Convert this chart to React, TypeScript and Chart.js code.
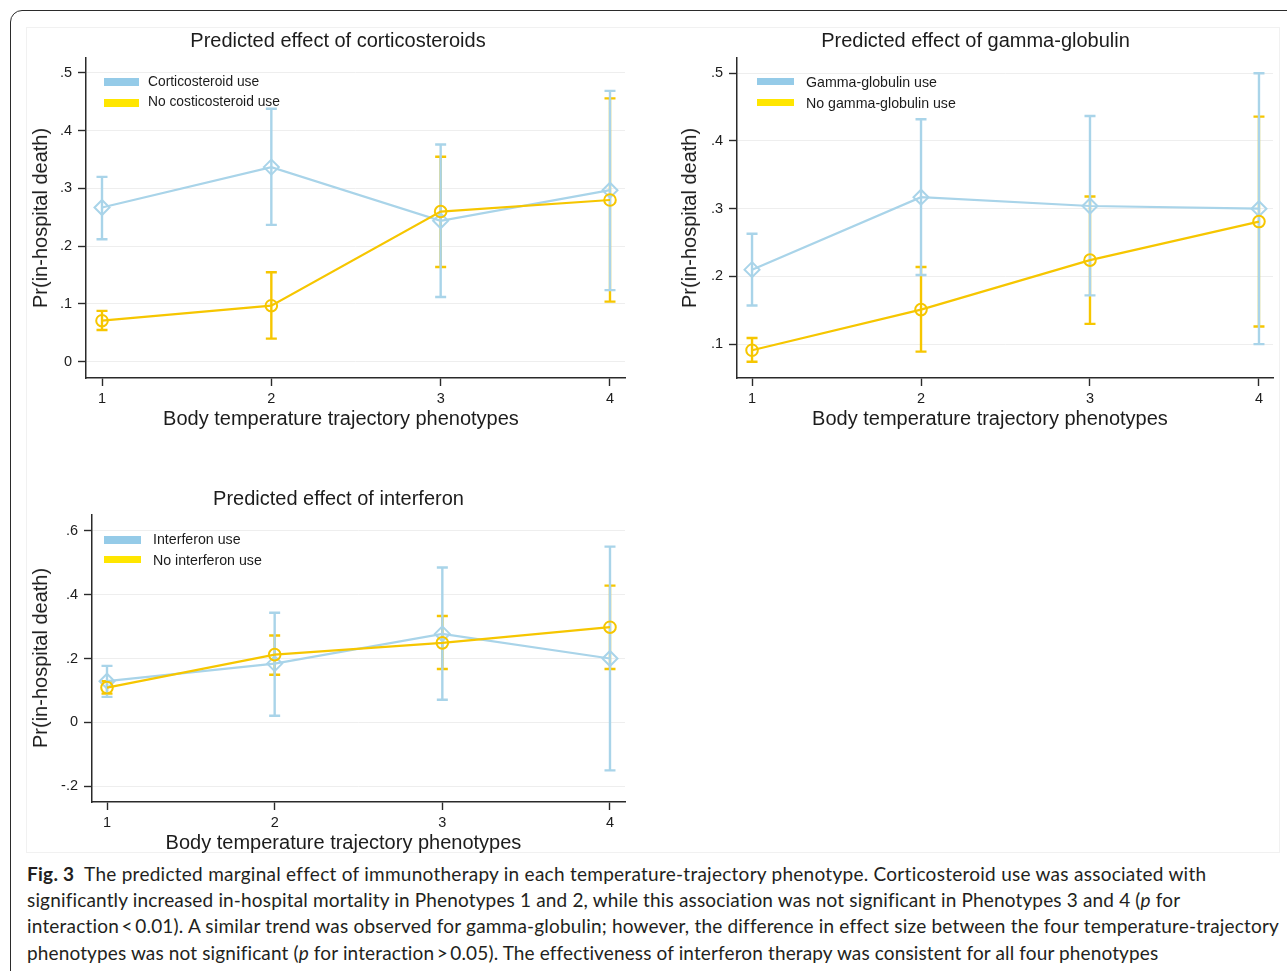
import React, { useEffect, useLayoutEffect, useRef } from "react";
import { Chart, registerables } from "chart.js";

Chart.register(...registerables);

// ---------------- data ----------------
const phenotypes = [1, 2, 3, 4];
const xTickLabels = ["1", "2", "3", "4"];

// Panel A: corticosteroids
const corticoUse = [0.267, 0.337, 0.244, 0.297];
const corticoUseLo = [0.212, 0.237, 0.112, 0.124];
const corticoUseHi = [0.32, 0.438, 0.376, 0.469];
const noCortico = [0.071, 0.097, 0.26, 0.28];
const noCorticoLo = [0.055, 0.04, 0.164, 0.104];
const noCorticoHi = [0.088, 0.155, 0.355, 0.456];
const yTicksA = [0, 0.1, 0.2, 0.3, 0.4, 0.5];
const yTickLabelsA = ["0", ".1", ".2", ".3", ".4", ".5"];

// Panel B: gamma-globulin
const gammaUse = [0.21, 0.317, 0.304, 0.3];
const gammaUseLo = [0.157, 0.202, 0.172, 0.1];
const gammaUseHi = [0.263, 0.432, 0.437, 0.5];
const noGamma = [0.091, 0.151, 0.224, 0.281];
const noGammaLo = [0.074, 0.089, 0.13, 0.126];
const noGammaHi = [0.109, 0.214, 0.318, 0.436];
const yTicksB = [0.1, 0.2, 0.3, 0.4, 0.5];
const yTickLabelsB = [".1", ".2", ".3", ".4", ".5"];

// Panel C: interferon
const interferonUse = [0.129, 0.184, 0.277, 0.2];
const interferonUseLo = [0.08, 0.021, 0.071, -0.15];
const interferonUseHi = [0.177, 0.343, 0.485, 0.55];
const noInterferon = [0.109, 0.212, 0.249, 0.298];
const noInterferonLo = [0.09, 0.149, 0.167, 0.167];
const noInterferonHi = [0.129, 0.272, 0.333, 0.428];
const yTicksC = [-0.2, 0, 0.2, 0.4, 0.6];
const yTickLabelsC = ["-.2", "0", ".2", ".4", ".6"];

// ---------------- style ----------------
const FONT = "'Liberation Sans', Arial, Helvetica, sans-serif";
const CAPTION_FONT = "Lato, 'Open Sans', sans-serif";
const INK = "#1c1c1c";
const AXIS = "#2a2a2a";
const BLUE = "#a9d4e9";
const YELLOW = "#f6c600";
const BLUE_KEY = "#95cbe8";
const YELLOW_KEY = "#ffe600";
const GRID = "#eeeeee";

const Y_AXIS_W = 66;
const X_AXIS_H = 28;
const PAD_T = 10;
const TOP_EXTRA = 4;
const PAD_R = 15;
const PAD_B = 4;

type Spec = {
  title: string;
  useLabel: string;
  noLabel: string;
  use: number[];
  useLo: number[];
  useHi: number[];
  no: number[];
  noLo: number[];
  noHi: number[];
  yTicks: number[];
  yTickLabels: string[];
  xMin: number;
  xMax: number;
  yMin: number;
  yMax: number;
  L: number;
  R: number;
  T: number;
  B: number;
  titleAt: [number, number];
  xTitleAt: [number, number];
  yTitleAt: [number, number];
  keyLeft: number;
  keyW: number;
  keyTops: [number, number];
  textLeft: number;
  textCenters: [number, number];
  keyFont: number;
};

const specs: Spec[] = [
  {
    title: "Predicted effect of corticosteroids",
    useLabel: "Corticosteroid use",
    noLabel: "No costicosteroid use",
    use: corticoUse, useLo: corticoUseLo, useHi: corticoUseHi,
    no: noCortico, noLo: noCorticoLo, noHi: noCorticoHi,
    yTicks: yTicksA, yTickLabels: yTickLabelsA,
    xMin: 0.9055, xMax: 4.0886, yMin: -0.0282, yMax: 0.5264,
    L: 86, R: 625, T: 57, B: 378,
    titleAt: [338, 40], xTitleAt: [341, 418], yTitleAt: [40, 217.5],
    keyLeft: 104, keyW: 35, keyTops: [78, 99], textLeft: 148, textCenters: [81.5, 101.5], keyFont: 13.8,
  },
  {
    title: "Predicted effect of gamma-globulin",
    useLabel: "Gamma-globulin use",
    noLabel: "No gamma-globulin use",
    use: gammaUse, useLo: gammaUseLo, useHi: gammaUseHi,
    no: noGamma, noLo: noGammaLo, noHi: noGammaHi,
    yTicks: yTicksB, yTickLabels: yTickLabelsB,
    xMin: 0.911, xMax: 4.083, yMin: 0.05, yMax: 0.523,
    L: 737, R: 1273, T: 57, B: 378,
    titleAt: [975.5, 40], xTitleAt: [990, 418], yTitleAt: [689, 217.5],
    keyLeft: 757, keyW: 37, keyTops: [77.5, 98.5], textLeft: 806, textCenters: [81.5, 102.5], keyFont: 14.2,
  },
  {
    title: "Predicted effect of interferon",
    useLabel: "Interferon use",
    noLabel: "No interferon use",
    use: interferonUse, useLo: interferonUseLo, useHi: interferonUseHi,
    no: noInterferon, noLo: noInterferonLo, noHi: noInterferonHi,
    yTicks: yTicksC, yTickLabels: yTickLabelsC,
    xMin: 0.9105, xMax: 4.0895, yMin: -0.249, yMax: 0.65,
    L: 92, R: 625, T: 514, B: 802,
    titleAt: [338.5, 498], xTitleAt: [343.5, 842], yTitleAt: [40, 658],
    keyLeft: 104, keyW: 37, keyTops: [536, 555.5], textLeft: 153, textCenters: [538.7, 559.5], keyFont: 14.2,
  },
];

function linePoints(values: number[]) {
  return phenotypes.map((x, i) => ({ x, y: values[i] }));
}

function ciPoints(lo: number[], hi: number[]) {
  const pts: { x: number; y: number | null }[] = [];
  phenotypes.forEach((x, i) => {
    pts.push({ x, y: lo[i] }, { x, y: hi[i] }, { x, y: null });
  });
  return pts;
}

function PanelChart({ spec }: { spec: Spec }) {
  const ref = useRef<HTMLCanvasElement>(null);
  const w = spec.R - spec.L + Y_AXIS_W + PAD_R;
  const h = spec.B - spec.T + PAD_T + TOP_EXTRA + X_AXIS_H + PAD_B;

  useEffect(() => {
    const canvas = ref.current;
    if (!canvas) return;
    const ciStyle = (color: string) => ({
      showLine: true,
      spanGaps: false,
      borderColor: color,
      borderWidth: 2.4,
      pointStyle: "line" as const,
      pointRadius: 5.5,
      pointBorderColor: color,
      pointBorderWidth: 2.4,
      pointBackgroundColor: color,
    });
    const chart = new Chart(canvas, {
      type: "line",
      data: {
        datasets: [
          {
            label: spec.noLabel,
            data: linePoints(spec.no),
            borderColor: YELLOW,
            borderWidth: 2.2,
            pointStyle: "circle",
            pointRadius: 5.8,
            pointBorderColor: YELLOW,
            pointBorderWidth: 2,
            pointBackgroundColor: "rgba(0,0,0,0)",
          },
          {
            label: spec.useLabel,
            data: linePoints(spec.use),
            borderColor: BLUE,
            borderWidth: 2.2,
            pointStyle: "rectRot",
            pointRadius: 7.5,
            pointBorderColor: BLUE,
            pointBorderWidth: 2,
            pointBackgroundColor: "rgba(0,0,0,0)",
          },
          { label: "ci-use", data: ciPoints(spec.useLo, spec.useHi), ...ciStyle(BLUE) },
          { label: "ci-no", data: ciPoints(spec.noLo, spec.noHi), ...ciStyle(YELLOW) },
        ],
      },
      options: {
        animation: false,
        responsive: false,
        maintainAspectRatio: false,
        events: [],
        layout: { padding: { top: PAD_T, right: PAD_R, bottom: PAD_B, left: 0 } },
        plugins: {
          legend: { display: false },
          tooltip: { enabled: false },
          title: { display: false },
        },
        scales: {
          x: {
            type: "linear",
            min: spec.xMin,
            max: spec.xMax,
            afterBuildTicks: (s: any) => {
              s.ticks = phenotypes.map((v) => ({ value: v }));
            },
            afterFit: (s: any) => {
              s.height = X_AXIS_H;
            },
            ticks: {
              autoSkip: false,
              maxRotation: 0,
              padding: 4,
              color: INK,
              font: { family: FONT, size: 14.5 },
              callback: (_v: any, i: number) => xTickLabels[i],
            },
            grid: {
              drawOnChartArea: false,
              drawTicks: true,
              tickLength: 8,
              tickColor: AXIS,
              tickWidth: 1.4,
            },
            border: { display: true, color: AXIS, width: 1.5 },
          },
          y: {
            type: "linear",
            min: spec.yMin,
            max: spec.yMax,
            afterBuildTicks: (s: any) => {
              s.ticks = spec.yTicks.map((v) => ({ value: v }));
            },
            afterFit: (s: any) => {
              s.width = Y_AXIS_W;
            },
            ticks: {
              autoSkip: false,
              padding: 6,
              color: INK,
              font: { family: FONT, size: 14.5 },
              callback: (_v: any, i: number) => spec.yTickLabels[i],
            },
            grid: {
              color: GRID,
              lineWidth: 1,
              drawTicks: true,
              tickLength: 8,
              tickColor: AXIS,
              tickWidth: 1.4,
            },
            border: { display: true, color: AXIS, width: 1.5 },
          },
        },
      },
    } as any);
    return () => chart.destroy();
  }, [spec]);

  return (
    <canvas
      ref={ref}
      width={w}
      height={h}
      style={{
        position: "absolute",
        left: spec.L - Y_AXIS_W,
        top: spec.T - PAD_T - TOP_EXTRA,
        width: w,
        height: h,
      }}
    />
  );
}

function CenterText({ x, y, text, size, rotate }: { x: number; y: number; text: string; size: number; rotate?: boolean }) {
  return (
    <div
      style={{
        position: "absolute",
        left: x,
        top: y,
        transform: `translate(-50%, -50%)${rotate ? " rotate(-90deg)" : ""}`,
        fontFamily: FONT,
        fontSize: size,
        lineHeight: 1,
        color: INK,
        whiteSpace: "nowrap",
      }}
    >
      {text}
    </div>
  );
}

function Panel({ spec }: { spec: Spec }) {
  const keys = [
    { color: BLUE_KEY, text: spec.useLabel },
    { color: YELLOW_KEY, text: spec.noLabel },
  ];
  return (
    <>
      <PanelChart spec={spec} />
      <CenterText x={spec.titleAt[0]} y={spec.titleAt[1]} text={spec.title} size={20} />
      <CenterText x={spec.xTitleAt[0]} y={spec.xTitleAt[1]} text="Body temperature trajectory phenotypes" size={20} />
      <CenterText x={spec.yTitleAt[0]} y={spec.yTitleAt[1]} text="Pr(in-hospital death)" size={20} rotate />
      {keys.map((k, i) => (
        <React.Fragment key={i}>
          <div
            style={{
              position: "absolute",
              left: spec.keyLeft,
              top: spec.keyTops[i],
              width: spec.keyW,
              height: 7.5,
              background: k.color,
            }}
          />
          <div
            style={{
              position: "absolute",
              left: spec.textLeft,
              top: spec.textCenters[i] - 8,
              height: 16,
              lineHeight: "16px",
              fontFamily: FONT,
              fontSize: spec.keyFont,
              color: INK,
              whiteSpace: "nowrap",
            }}
          >
            {k.text}
          </div>
        </React.Fragment>
      ))}
    </>
  );
}

function CaptionLine({ top, right, children }: { top: number; right: number; children: React.ReactNode }) {
  const ref = useRef<HTMLDivElement>(null);
  useLayoutEffect(() => {
    const el = ref.current;
    if (!el) return;
    el.style.letterSpacing = "0px";
    const w = el.getBoundingClientRect().width;
    const n = (el.textContent || "").length;
    if (n > 1) el.style.letterSpacing = `${(right - 27 - w) / n}px`;
  }, [right]);
  return (
    <div
      ref={ref}
      style={{
        position: "absolute",
        left: 27,
        top,
        whiteSpace: "pre",
        fontFamily: CAPTION_FONT,
        fontSize: 19,
        lineHeight: "26px",
        color: "#231f20",
      }}
    >
      {children}
    </div>
  );
}

export default function App() {
  return (
    <div
      style={{
        position: "absolute",
        left: 0,
        top: 0,
        width: 1287,
        height: 971,
        overflow: "hidden",
        background: "#ffffff",
      }}
    >
      <div
        style={{
          position: "absolute",
          left: 10,
          top: 10,
          width: 1320,
          height: 1000,
          border: "1.5px solid #2b2b2b",
          borderRadius: 12,
          boxSizing: "border-box",
        }}
      />
      <div
        style={{
          position: "absolute",
          left: 26,
          top: 27,
          width: 1254,
          height: 826,
          border: "1px solid #f1f1f1",
          boxSizing: "border-box",
        }}
      />
      {specs.map((s, i) => (
        <Panel key={i} spec={s} />
      ))}
      <CaptionLine top={860.5} right={1206}>
        <b>Fig. 3</b>
        {"\u2002The predicted marginal effect of immunotherapy in each temperature-trajectory phenotype. Corticosteroid use was associated with"}
      </CaptionLine>
      <CaptionLine top={886.8} right={1180}>
        {"significantly increased in-hospital mortality in Phenotypes 1 and 2, while this association was not significant in Phenotypes 3 and 4 ("}
        <i>p</i>
        {" for"}
      </CaptionLine>
      <CaptionLine top={913.2} right={1278}>
        {"interaction\u2009<\u20090.01). A similar trend was observed for gamma-globulin; however, the difference in effect size between the four temperature-trajectory"}
      </CaptionLine>
      <CaptionLine top={939.6} right={1158}>
        {"phenotypes was not significant ("}
        <i>p</i>
        {" for interaction\u2009>\u20090.05). The effectiveness of interferon therapy was consistent for all four phenotypes"}
      </CaptionLine>
    </div>
  );
}
